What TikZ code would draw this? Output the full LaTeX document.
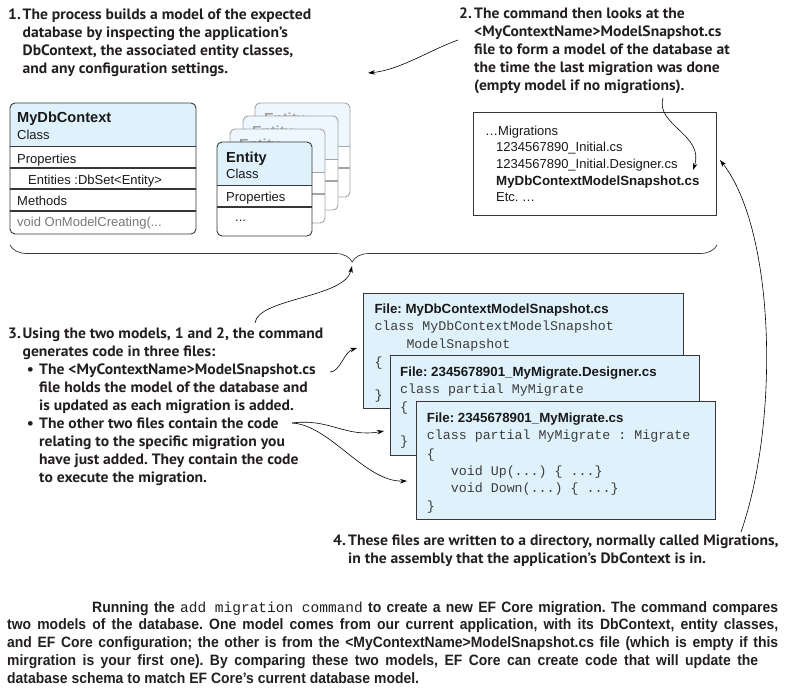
\documentclass[tikz,border=0pt]{standalone}
\usepackage{fontspec}
\setmainfont{Liberation Sans}
\setmonofont{Liberation Mono}
\newfontfamily\annfont{PT Sans}[FakeStretch=1.04]
\newfontfamily\capfont{Liberation Sans}[FakeStretch=0.93]
\usetikzlibrary{arrows.meta,decorations.pathreplacing}
\definecolor{boxblue}{RGB}{223,242,252}
\definecolor{boxline}{RGB}{55,55,55}
\definecolor{fadeblue}{RGB}{237,247,253}
\definecolor{fadeline}{RGB}{165,165,165}
\definecolor{fadetext}{RGB}{160,160,160}
\definecolor{anncol}{RGB}{35,31,32}
\definecolor{txtcol}{RGB}{25,25,25}
\definecolor{graytxt}{RGB}{120,120,120}
\definecolor{codecol}{RGB}{60,60,60}
\newcommand\FirstLn{\rule{0pt}{13pt}}
\newcommand\capmono[1]{{\ttfamily\mdseries\fontsize{14.5}{15}\selectfont #1}}
\newcommand\EntBox[6]{%
  \begin{scope}
    \clip[rounded corners=5pt] (#2,#3) rectangle ++(95,94);
    \fill[white] (#2,#3) rectangle ++(95,94);
    \fill[#4] (#2,#3) rectangle ++(95,43);
  \end{scope}
  \draw[#5,line width=0.8pt] (#2,#3+43) -- ++(95,0);
  \draw[#5,line width=1.6pt] (#2,#3+65) -- ++(95,0);
  \draw[#5,line width=0.9pt,rounded corners=5pt] (#2,#3) rectangle ++(95,94);
  \node[titlet,text=#6] (#1) at (#2+9,#3+20.7) {Entity};
}
\begin{document}
\frenchspacing
\begin{tikzpicture}[x=1pt,y=-1pt,
  conn/.style={-{Stealth[length=7pt,width=4.5pt]},line width=0.6pt,draw=black},
  ann/.style={font=\annfont\bfseries\fontsize{15}{18}\selectfont,text=anncol,align=left,anchor=north west,inner sep=0pt},
  lbl/.style={font=\fontsize{13}{15}\selectfont,anchor=base west,inner sep=0pt,text=txtcol},
  lblb/.style={lbl,font=\bfseries\fontsize{13.3}{15}\selectfont},
  titlet/.style={lbl,font=\bfseries\fontsize{14.6}{16}\selectfont},
  code/.style={font=\ttfamily\fontsize{13.3}{15}\selectfont,anchor=base west,inner sep=0pt,text=codecol},
  captxt/.style={font=\capfont\bfseries\fontsize{15}{17.5}\selectfont,anchor=base west,inner sep=0pt,text=anncol},
  codebox/.style={draw=boxline,fill=boxblue,anchor=north west,line width=0.9pt,inner sep=0pt},
]
\useasboundingbox (0,0) rectangle (792,694);
\fill[white] (0,0) rectangle (792,694);

% ---------- annotation 1
\node[ann] (t1) at (8,6.3) {\FirstLn\makebox[14.5pt][l]{1.}The process builds a model of the expected\\
\hspace*{14.5pt}database by inspecting the application’s\\
\hspace*{14.5pt}DbContext, the associated entity classes,\\
\hspace*{14.5pt}and any configuration settings.};

% ---------- annotation 2
\node[ann] (t2) at (459,5.3) {\FirstLn\makebox[15pt][l]{2.}The command then looks at the\\
\hspace*{15pt}<MyContextName>ModelSnapshot.cs\\
\hspace*{15pt}file to form a model of the database at\\
\hspace*{15pt}the time the last migration was done\\
\hspace*{15pt}(empty model if no migrations).};

% ---------- MyDbContext box
\begin{scope}
  \clip[rounded corners=5pt] (10,103) rectangle (196,234);
  \fill[white] (10,103) rectangle (196,234);
  \fill[boxblue] (10,103) rectangle (196,146);
\end{scope}
\draw[boxline,line width=0.8pt] (10,146) -- (196,146);
\draw[boxline,line width=1.6pt] (10,168) -- (196,168);
\draw[boxline,line width=1.6pt] (10,189) -- (196,189);
\draw[boxline,line width=1.6pt] (10,211) -- (196,211);
\draw[boxline,line width=0.9pt,rounded corners=5pt] (10,103) rectangle (196,234);
\node[titlet] (mdc) at (17,122.7) {MyDbContext};
\node[lbl] (mdcc) at (17,139.3) {Class};
\node[lbl] (mdcp) at (17,163.3) {Properties};
\node[lbl] (mdce) at (28,184) {Entities :DbSet<Entity>};
\node[lbl] (mdcm) at (17,205) {Methods};
\node[lbl,text=graytxt] (mdcv) at (17,226.7) {void OnModelCreating(...};

% ---------- Entity boxes
\EntBox{ent4}{255}{103}{fadeblue}{fadeline}{fadetext}
\EntBox{ent3}{243}{116}{fadeblue}{fadeline}{fadetext}
\EntBox{ent2}{230}{129}{fadeblue}{fadeline}{fadetext}
\EntBox{ent1}{217}{142}{boxblue}{boxline}{txtcol}
\node[lbl] (entc) at (226,178.7) {Class};
\node[lbl] (entp) at (226,201.7) {Properties};
\node[lbl] (entd) at (235,221.7) {...};

% ---------- Migrations box
\node[draw=boxline,fill=white,line width=0.9pt,anchor=north west,minimum width=243pt,minimum height=103pt,inner sep=0pt] (mig) at (473,112) {};
\node[lbl] (m1) at (485,135) {…Migrations};
\node[lbl] (m2) at (496,151.7) {1234567890\_Initial.cs};
\node[lbl] (m3) at (496,168.3) {1234567890\_Initial.Designer.cs};
\node[lblb] (m4) at (496,185) {MyDbContextModelSnapshot.cs};
\node[lbl] (m5) at (496,201.7) {Etc. …};

% ---------- brace
\coordinate (br1) at (10,245);
\coordinate (br2) at (717,245);
\draw[decorate,decoration={brace,mirror,amplitude=17pt,aspect=0.484},line width=0.7pt,draw=boxline] (br1) -- (br2);

% ---------- annotation 3
\node[ann] (t3) at (8,325) {\FirstLn\makebox[14.5pt][l]{3.}Using the two models, 1 and 2, the command\\
\hspace*{14.5pt}generates code in three files:\\
\hspace*{18.7pt}\makebox[12.3pt][l]{•}The <MyContextName>ModelSnapshot.cs\\
\hspace*{31pt}file holds the model of the database and\\
\hspace*{31pt}is updated as each migration is added.\\
\hspace*{18.7pt}\makebox[12.3pt][l]{•}The other two files contain the code\\
\hspace*{31pt}relating to the specific migration you\\
\hspace*{31pt}have just added. They contain the code\\
\hspace*{31pt}to execute the migration.};

% ---------- code boxes
\node[codebox,minimum width=320pt,minimum height=115pt] (fa) at (363,293) {};
\node[lblb] (fa1) at (374.3,313.3) {File: MyDbContextModelSnapshot.cs};
\node[code] (fa2) at (374.3,330) {class MyDbContextModelSnapshot};
\node[code] (fa3) at (406.3,348.3) {ModelSnapshot};
\node[code] (fa4) at (374.3,366) {\{};
\node[code] (fa5) at (374.3,399) {\}};

\node[codebox,minimum width=309pt,minimum height=100pt] (fb) at (390,355) {};
\node[lblb] (fb1) at (400,376.7) {File: 2345678901\_MyMigrate.Designer.cs};
\node[code] (fb2) at (400,393.3) {class partial MyMigrate};
\node[code] (fb3) at (400,411.7) {\{};
\node[code] (fb4) at (400,445) {\}};

\node[codebox,minimum width=299pt,minimum height=118pt] (fc) at (416,401) {};
\node[lblb] (fc1) at (426.7,422.7) {File: 2345678901\_MyMigrate.cs};
\node[code] (fc2) at (426.7,439.3) {class partial MyMigrate : Migrate};
\node[code] (fc3) at (426.7,458.3) {\{};
\node[code] (fc4) at (450.7,475) {void Up(...) \{ ...\}};
\node[code] (fc5) at (450.7,492.7) {void Down(...) \{ ...\}};
\node[code] (fc6) at (426.7,510) {\}};

% ---------- annotation 4
\node[ann] (t4) at (333,532) {\FirstLn\makebox[15pt][l]{4.}These files are written to a directory, normally called Migrations,\\
\hspace*{15pt}in the assembly that the application’s DbContext is in.};

% ---------- connectors
\coordinate (a1s) at (458,40);  \coordinate (a1e) at (368,73);
\draw[conn] (a1s) .. controls (430,50) and (400,70) .. (a1e);
\coordinate (a2s) at (663,98);  \coordinate (a2e) at (693,170);
\draw[conn] (a2s) .. controls (655,125) and (705,135) .. (a2e);
\coordinate (a3s) at (741,532); \coordinate (a3e) at (720,160);
\draw[conn] (a3s) .. controls (780,420) and (775,230) .. (a3e);
\coordinate (a4s) at (255,323); \coordinate (a4e) at (352,266);
\draw[conn] (a4s) .. controls (258,298) and (345,298) .. (a4e);
\coordinate (a5s) at (330,372); \coordinate (a5e) at (357,348);
\draw[conn] (a5s) .. controls (340,372) and (344,352) .. (a5e);
\coordinate (a6s) at (292,423); \coordinate (a6e) at (384,431);
\draw[conn] (a6s) .. controls (330,418) and (345,438) .. (a6e);
\coordinate (a7e) at (407,481);
\draw[conn] (a6s) .. controls (330,425) and (365,482) .. (a7e);

% ---------- caption
\node[captxt] (c1) at (92,612.3) {\makebox[686pt][s]{Running the \capmono{add migration command} to create a new EF Core migration. The command compares}};
\node[captxt] (c2) at (7,629.8) {\makebox[771pt][s]{two models of the database. One model comes from our current application, with its DbContext, entity classes,}};
\node[captxt] (c3) at (7,647.5) {\makebox[771pt][s]{and EF Core configuration; the other is from the <MyContextName>ModelSnapshot.cs file (which is empty if this}};
\node[captxt] (c4) at (7,665.2) {\makebox[751pt][s]{mirgration is your first one). By comparing these two models, EF Core can create code that will update the}};
\node[captxt] (c5) at (7,683) {database schema to match EF Core’s current database model.};
\end{tikzpicture}
\end{document}
